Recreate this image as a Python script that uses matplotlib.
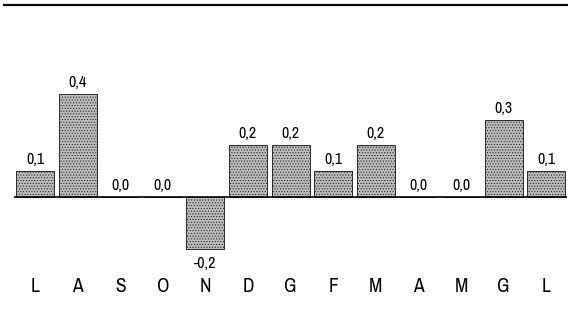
import matplotlib
matplotlib.use("Agg")
import matplotlib.pyplot as plt
from matplotlib.lines import Line2D

months = ["L", "A", "S", "O", "N", "D", "G", "F", "M", "A", "M", "G", "L"]
values = [0.1, 0.4, 0.0, 0.0, -0.2, 0.2, 0.2, 0.1, 0.2, 0.0, 0.0, 0.3, 0.1]

plt.rcParams["font.family"] = ["Archivo Narrow", "Liberation Sans", "DejaVu Sans"]
plt.rcParams["hatch.color"] = "#707070"
plt.rcParams["hatch.linewidth"] = 0.5

W, H, DPI = 568, 329, 100
fig = plt.figure(figsize=(W / DPI, H / DPI), dpi=DPI)
ax = fig.add_axes([0.0241, 0.0, 0.975, 1.0])

x = list(range(len(months)))
ax.bar(x, values, width=0.89, color="#bcbcbc", edgecolor="#2a2a2a",
       linewidth=0.7, hatch="......", zorder=2)

ax.axhline(0, color="black", linewidth=1.2, zorder=3)

ax.set_xlim(-0.5, len(months) - 0.5)
ax.set_ylim(-0.5126, 0.765)
ax.axis("off")

for xi, v in zip(x, values):
    label = f"{v:.1f}".replace(".", ",")
    if v < 0:
        ax.annotate(label, (xi, v), xytext=(0, -5.5), textcoords="offset points",
                    ha="center", va="top", fontsize=11.5)
    else:
        ax.annotate(label, (xi, v), xytext=(0, 3), textcoords="offset points",
                    ha="center", va="bottom", fontsize=11.5)

for xi, m in zip(x, months):
    ax.text(xi, -0.3495, m, ha="center", va="center", fontsize=14)

# rule across the top of the figure
fig.add_artist(Line2D([4 / W, 1.0], [1 - 5 / H, 1 - 5 / H], color="black",
                      linewidth=1.6, transform=fig.transFigure))

fig.savefig("out.png", dpi=DPI, facecolor="white")
